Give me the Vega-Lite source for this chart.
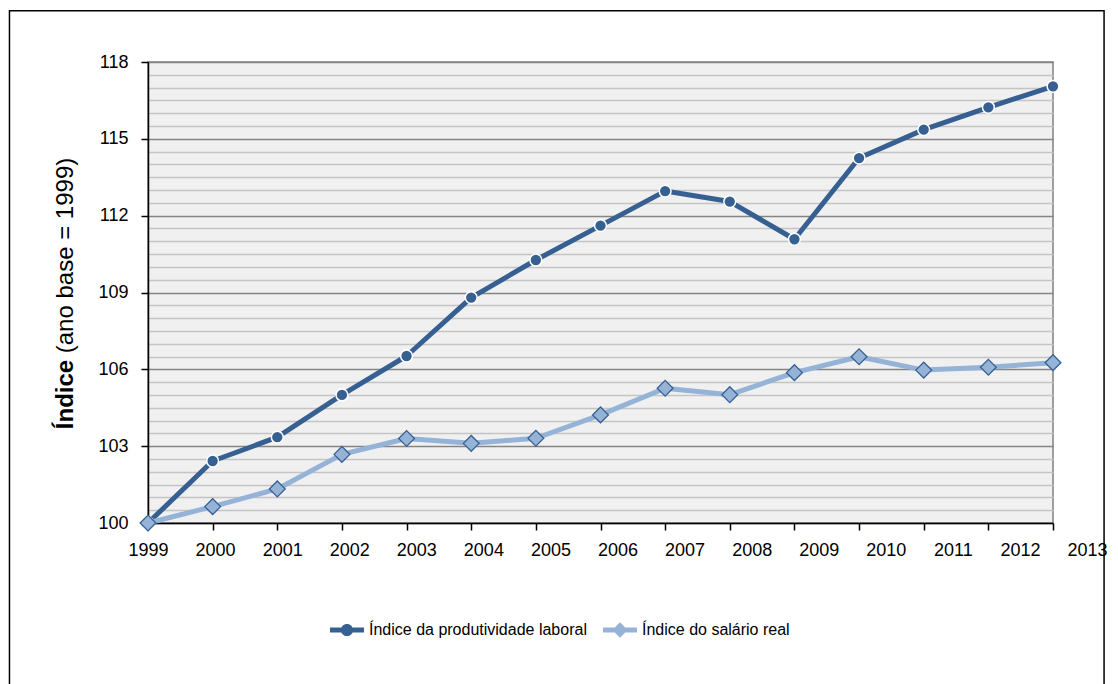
{
  "$schema": "https://vega.github.io/schema/vega-lite/v6.json",
  "width": 905,
  "height": 461,
  "autosize": {"type": "none"},
  "padding": {"left": 148, "top": 62, "right": 65, "bottom": 161},
  "background": "white",
  "config": {
    "font": "Liberation Sans",
    "view": {"fill": "#F0F0F0", "stroke": "#808080", "strokeWidth": 1.5},
    "axis": {
      "labelFont": "Liberation Sans",
      "labelFontSize": 18,
      "labelColor": "black",
      "tickColor": "black",
      "tickWidth": 1.5,
      "tickSize": 7,
      "domainColor": "black",
      "domainWidth": 1.5,
      "titleFont": "Liberation Sans",
      "titleFontSize": 24,
      "titleColor": "black"
    },
    "legend": {
      "labelFont": "Liberation Sans",
      "labelFontSize": 16,
      "labelColor": "black",
      "labelLimit": 0
    }
  },
  "datasets": {
    "prod": [
      {"ano": 1999, "serie": "Índice da produtividade laboral", "valor": 100},
      {"ano": 2000, "serie": "Índice da produtividade laboral", "valor": 102.42},
      {"ano": 2001, "serie": "Índice da produtividade laboral", "valor": 103.35},
      {"ano": 2002, "serie": "Índice da produtividade laboral", "valor": 105.0},
      {"ano": 2003, "serie": "Índice da produtividade laboral", "valor": 106.52},
      {"ano": 2004, "serie": "Índice da produtividade laboral", "valor": 108.8},
      {"ano": 2005, "serie": "Índice da produtividade laboral", "valor": 110.27},
      {"ano": 2006, "serie": "Índice da produtividade laboral", "valor": 111.61},
      {"ano": 2007, "serie": "Índice da produtividade laboral", "valor": 112.96},
      {"ano": 2008, "serie": "Índice da produtividade laboral", "valor": 112.55},
      {"ano": 2009, "serie": "Índice da produtividade laboral", "valor": 111.08},
      {"ano": 2010, "serie": "Índice da produtividade laboral", "valor": 114.25},
      {"ano": 2011, "serie": "Índice da produtividade laboral", "valor": 115.36},
      {"ano": 2012, "serie": "Índice da produtividade laboral", "valor": 116.23},
      {"ano": 2013, "serie": "Índice da produtividade laboral", "valor": 117.05}
    ],
    "sal": [
      {"ano": 1999, "serie": "Índice do salário real", "valor": 100},
      {"ano": 2000, "serie": "Índice do salário real", "valor": 100.64},
      {"ano": 2001, "serie": "Índice do salário real", "valor": 101.33},
      {"ano": 2002, "serie": "Índice do salário real", "valor": 102.68},
      {"ano": 2003, "serie": "Índice do salário real", "valor": 103.3},
      {"ano": 2004, "serie": "Índice do salário real", "valor": 103.11},
      {"ano": 2005, "serie": "Índice do salário real", "valor": 103.31},
      {"ano": 2006, "serie": "Índice do salário real", "valor": 104.22},
      {"ano": 2007, "serie": "Índice do salário real", "valor": 105.26},
      {"ano": 2008, "serie": "Índice do salário real", "valor": 105.01},
      {"ano": 2009, "serie": "Índice do salário real", "valor": 105.87},
      {"ano": 2010, "serie": "Índice do salário real", "valor": 106.49},
      {"ano": 2011, "serie": "Índice do salário real", "valor": 105.97},
      {"ano": 2012, "serie": "Índice do salário real", "valor": 106.08},
      {"ano": 2013, "serie": "Índice do salário real", "valor": 106.26}
    ]
  },
  "layer": [
    {
      "layer": [
        {
          "data": {"name": "prod"},
          "mark": {"type": "line", "strokeWidth": 5, "strokeJoin": "round"},
          "encoding": {
            "x": {
              "field": "ano", "type": "quantitative",
              "scale": {"domain": [1999, 2013], "nice": false, "zero": false},
              "axis": {
                "title": null,
                "values": [1999, 2000, 2001, 2002, 2003, 2004, 2005, 2006, 2007, 2008, 2009, 2010, 2011, 2012, 2013],
                "tickCount": 100,
                "format": "d",
                "grid": false,
                "labelPadding": 11,
                "labelFlush": false,
                "labelOverlap": false,
                "labelOffset": {"expr": "(datum.value - 1999) * 2.43"}
              }
            },
            "y": {
              "field": "valor", "type": "quantitative",
              "scale": {"domain": [100, 118], "nice": false, "zero": false},
              "axis": {
                "title": "Índice",
                "titleFontWeight": "bold",
                "titleX": -71,
                "titleY": 332,
                "values": [100, 103, 106, 109, 112, 115, 118],
                "format": "d",
                "tickCount": 100,
                "grid": true,
                "gridColor": "#848484",
                "gridWidth": 1.5,
                "labelPadding": 13,
                "labelOverlap": false
              }
            },
            "color": {
              "field": "serie", "type": "nominal",
              "scale": {"domain": ["Índice da produtividade laboral", "Índice do salário real"], "range": ["#376092", "#95B3D7"]},
              "legend": {
                "orient": "none",
                "legendX": 182,
                "legendY": 551,
                "direction": "horizontal",
                "title": null,
                "symbolSize": 1156,
                "labelOffset": 5,
                "columnPadding": 16,
                "padding": 0,
                "encode": {
                  "symbols": {
                    "update": {
                      "shape": {"signal": "datum.value === 'Índice da produtividade laboral' ? 'M-1,-0.15H1V0.15H-1ZM-0.36,0A0.36,0.36,0,1,1,0.36,0A0.36,0.36,0,1,1,-0.36,0Z' : 'M-1,-0.15H1V0.15H-1ZM-0.45,0L0,-0.45L0.45,0L0,0.45Z'"},
                      "fill": {"signal": "datum.value === 'Índice da produtividade laboral' ? '#376092' : '#95B3D7'"},
                      "stroke": {"value": "transparent"},
                      "strokeWidth": {"value": 0},
                      "opacity": {"value": 1}
                    }
                  }
                }
              }
            }
          }
        },
        {
          "data": {"name": "prod"},
          "mark": {"type": "point", "shape": "circle", "filled": true, "size": 140, "stroke": "white", "strokeWidth": 1.5, "opacity": 1},
          "encoding": {
            "x": {"field": "ano", "type": "quantitative"},
            "y": {"field": "valor", "type": "quantitative"},
            "color": {"field": "serie", "type": "nominal"}
          }
        },
        {
          "data": {"values": [{}]},
          "mark": {"type": "rect", "fillOpacity": 0, "stroke": "black", "strokeWidth": 1.5},
          "encoding": {
            "x": {"datum": 1996.857, "type": "quantitative"},
            "x2": {"datum": 2013.79},
            "y": {"datum": 120, "type": "quantitative"},
            "y2": {"datum": 93}
          }
        }
      ]
    },
    {
      "data": {"name": "sal"},
      "layer": [
        {
          "mark": {"type": "line", "strokeWidth": 5, "strokeJoin": "round"},
          "encoding": {
            "x": {"field": "ano", "type": "quantitative"},
            "y": {
              "field": "valor", "type": "quantitative",
              "scale": {"domain": [100, 118], "nice": false, "zero": false},
              "axis": {
                "orient": "left",
                "title": "(ano base = 1999)",
                "titleFontWeight": "normal",
                "titleX": -71,
                "titleY": 193,
                "labels": false,
                "ticks": false,
                "domain": false,
                "grid": true,
                "gridColor": "#C4C4C4",
                "gridWidth": 1.3,
                "tickCount": 100,
                "values": [100.5, 101, 101.5, 102, 102.5, 103.5, 104, 104.5, 105, 105.5, 106.5, 107, 107.5, 108, 108.5, 109.5, 110, 110.5, 111, 111.5, 112.5, 113, 113.5, 114, 114.5, 115.5, 116, 116.5, 117, 117.5]
              }
            },
            "color": {"field": "serie", "type": "nominal"}
          }
        },
        {
          "mark": {"type": "point", "shape": "diamond", "filled": true, "size": 250, "stroke": "#376092", "strokeWidth": 1.3, "opacity": 1},
          "encoding": {
            "x": {"field": "ano", "type": "quantitative"},
            "y": {"field": "valor", "type": "quantitative"},
            "color": {"field": "serie", "type": "nominal"}
          }
        }
      ]
    }
  ],
  "resolve": {"scale": {"y": "independent"}}
}
